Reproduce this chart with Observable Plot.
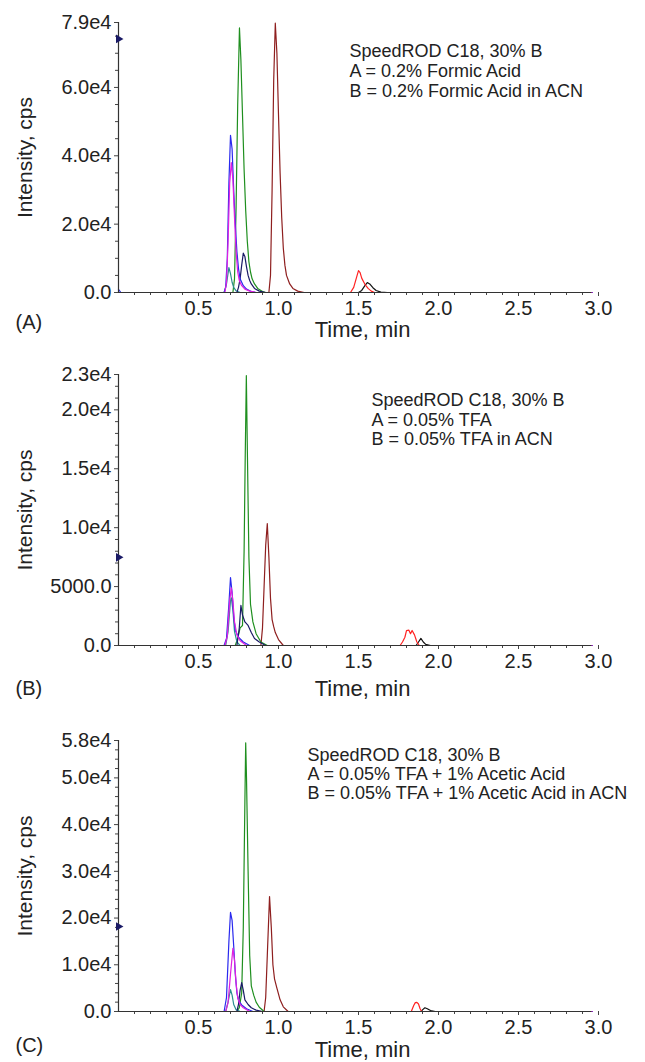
<!DOCTYPE html>
<html><head><meta charset="utf-8">
<script src="https://cdn.jsdelivr.net/npm/d3@7"></script>
<script src="https://cdn.jsdelivr.net/npm/@observablehq/plot@0.6"></script>
<style>
html,body{margin:0;padding:0;background:#fff;}
#chart svg{display:block;}
</style></head><body><div id="chart"></div>
<script>
// ---------- data (time in min, intensity in cps) ----------
const xTicks = [0.5, 1.0, 1.5, 2.0, 2.5, 3.0];
const xMinor = [0.1,0.2,0.3,0.4,0.6,0.7,0.8,0.9,1.1,1.2,1.3,1.4,1.6,1.7,1.8,1.9,2.1,2.2,2.3,2.4,2.6,2.7,2.8,2.9];
const tEnd = 2.96;

// Panel A
const A_yTicks = [0, 20000, 40000, 60000, 79000];
const A_yLabels = ["0.0", "2.0e4", "4.0e4", "6.0e4", "7.9e4"];
const A_yMinor = [5000,10000,15000,25000,30000,35000,45000,50000,55000,65000,70000,75000];
const A_black = [[0,0],[1.50,0],[1.52,600],[1.54,2000],[1.555,2900],[1.57,2500],[1.59,1400],[1.61,600],[1.64,100],[1.68,0],[tEnd,0]];
const A_red = [[0,0],[1.45,0],[1.47,1500],[1.49,4800],[1.50,6400],[1.51,5800],[1.52,4200],[1.54,2400],[1.56,1200],[1.58,400],[1.60,0],[tEnd,0]];
const A_brown = [[0,0],[0.94,0],[0.95,5000],[0.96,30000],[0.97,62000],[0.98,78800],[0.99,70000],[1.0,52000],[1.01,35000],[1.02,22000],[1.03,13000],[1.04,8000],[1.05,5000],[1.07,2500],[1.09,1200],[1.12,400],[1.16,0],[tEnd,0]];
const A_green = [[0,0],[0.715,0],[0.725,4000],[0.735,25000],[0.745,55000],[0.756,77400],[0.765,68000],[0.775,52000],[0.785,36000],[0.795,24000],[0.805,15000],[0.815,9000],[0.825,6000],[0.835,4000],[0.85,2500],[0.87,1200],[0.90,300],[0.92,0],[tEnd,0]];
const A_teal = [[0,0],[0.66,0],[0.675,2500],[0.69,7300],[0.70,5500],[0.71,3000],[0.72,1500],[0.735,500],[0.76,0],[tEnd,0]];
const A_navy = [[0,0],[0.74,0],[0.75,1500],[0.76,4000],[0.77,8000],[0.78,11500],[0.79,10500],[0.80,7500],[0.81,5000],[0.82,3500],[0.83,2500],[0.85,1200],[0.88,400],[0.92,0],[tEnd,0]];
const A_blue = [[0,900],[0.015,0],[0.66,0],[0.67,1500],[0.68,10000],[0.69,32000],[0.70,46000],[0.71,42000],[0.72,30000],[0.73,20000],[0.74,12000],[0.75,7000],[0.76,4000],[0.78,2000],[0.80,1000],[0.83,300],[0.86,0],[tEnd,0]];
const A_magenta = [[0,0],[0.665,0],[0.675,3000],[0.685,15000],[0.695,32000],[0.705,38000],[0.715,33000],[0.725,22000],[0.735,12000],[0.745,6000],[0.755,3500],[0.77,2000],[0.79,1000],[0.82,400],[0.86,0],[tEnd,0]];
const A_marker = [74200];
const A_note = "SpeedROD C18, 30% B\nA = 0.2% Formic Acid\nB = 0.2% Formic Acid in ACN";

// Panel B
const B_yTicks = [0, 5000, 10000, 15000, 20000, 23000];
const B_yLabels = ["0.0", "5000.0", "1.0e4", "1.5e4", "2.0e4", "2.3e4"];
const B_yMinor = [1000,2000,3000,4000,6000,7000,8000,9000,11000,12000,13000,14000,16000,17000,18000,19000,21000,22000];
const B_black = [[0,0],[1.86,0],[1.875,300],[1.89,600],[1.905,300],[1.92,100],[1.95,0],[tEnd,0]];
const B_red = [[0,0],[1.76,0],[1.775,300],[1.79,700],[1.80,1270],[1.815,1300],[1.825,1000],[1.835,1280],[1.85,900],[1.865,300],[1.88,0],[tEnd,0]];
const B_brown = [[0,0],[0.89,0],[0.90,1500],[0.91,5000],[0.92,8500],[0.93,10340],[0.94,7500],[0.95,4000],[0.96,2200],[0.97,1600],[0.98,1100],[1.0,500],[1.03,0],[tEnd,0]];
const B_green = [[0,0],[0.73,0],[0.745,600],[0.76,1500],[0.775,1700],[0.785,8000],[0.792,16000],[0.799,22900],[0.806,16000],[0.815,7500],[0.825,3500],[0.84,2000],[0.86,1000],[0.89,300],[0.93,0],[tEnd,0]];
const B_teal = [[0,0],[0.67,0],[0.685,1200],[0.70,3800],[0.705,4050],[0.715,3000],[0.725,1200],[0.74,300],[0.76,0],[tEnd,0]];
const B_navy = [[0,0],[0.74,0],[0.755,1500],[0.765,3400],[0.775,2600],[0.79,2000],[0.81,1700],[0.83,1100],[0.85,600],[0.88,300],[0.92,0],[tEnd,0]];
const B_blue = [[0,0],[0.66,0],[0.675,600],[0.69,3500],[0.70,5760],[0.71,4500],[0.72,2500],[0.73,1300],[0.75,700],[0.78,300],[0.82,0],[tEnd,0]];
const B_magenta = [[0,0],[0.665,0],[0.68,800],[0.695,3800],[0.705,4900],[0.715,3800],[0.725,2000],[0.74,900],[0.76,400],[0.80,0],[tEnd,0]];
const B_marker = [7480];
const B_note = "SpeedROD C18, 30% B\nA = 0.05% TFA\nB = 0.05% TFA in ACN";

// Panel C
const C_yTicks = [0, 10000, 20000, 30000, 40000, 50000, 58000];
const C_yLabels = ["0.0", "1.0e4", "2.0e4", "3.0e4", "4.0e4", "5.0e4", "5.8e4"];
const C_yMinor = [2000,4000,6000,8000,12000,14000,16000,18000,22000,24000,26000,28000,32000,34000,36000,38000,42000,44000,46000,48000,52000,54000,56000];
const C_black = [[0,0],[1.89,0],[1.905,500],[1.915,800],[1.93,600],[1.95,200],[1.98,0],[tEnd,0]];
const C_red = [[0,0],[1.83,0],[1.845,1300],[1.855,1900],[1.865,1950],[1.875,1600],[1.885,600],[1.895,0],[tEnd,0]];
const C_brown = [[0,0],[0.91,0],[0.92,3000],[0.93,12000],[0.944,24600],[0.955,18000],[0.965,10000],[0.975,7000],[0.99,5000],[1.01,2500],[1.03,1000],[1.06,0],[tEnd,0]];
const C_green = [[0,0],[0.74,0],[0.755,800],[0.77,4000],[0.78,18000],[0.79,45000],[0.795,57500],[0.80,50000],[0.81,30000],[0.82,12000],[0.83,5500],[0.845,3500],[0.86,2000],[0.88,900],[0.91,0],[tEnd,0]];
const C_teal = [[0,0],[0.67,0],[0.685,2000],[0.70,4700],[0.71,3500],[0.72,1500],[0.735,400],[0.76,0],[tEnd,0]];
const C_navy = [[0,0],[0.74,0],[0.75,1500],[0.76,4500],[0.77,6200],[0.78,4500],[0.79,2500],[0.81,1500],[0.83,800],[0.86,300],[0.90,0],[tEnd,0]];
const C_blue = [[0,0],[0.66,0],[0.675,3000],[0.69,15000],[0.70,21200],[0.71,19500],[0.72,14000],[0.73,8000],[0.74,4000],[0.75,2400],[0.77,1400],[0.80,600],[0.84,0],[tEnd,0]];
const C_magenta = [[0,0],[0.67,0],[0.685,2000],[0.70,8000],[0.715,13500],[0.725,11000],[0.735,6000],[0.745,3000],[0.76,1500],[0.78,800],[0.82,0],[tEnd,0]];
const C_marker = [18200];
const C_note = "SpeedROD C18, 30% B\nA = 0.05% TFA + 1% Acetic Acid\nB = 0.05% TFA + 1% Acetic Acid in ACN";

const colors = {black:"#111111", red:"#ff2222", brown:"#8e1f1f", green:"#1f8f1f", teal:"#2a8f8f", navy:"#1a1a66", blue:"#2a2aee", magenta:"#e020e0"};

// ---------- rendering ----------
const FONT = "'Liberation Sans', Arial, Helvetica, sans-serif";

function panel(cfg) {
  const labelMap = new Map(cfg.yTicks.map((v, i) => [v, cfg.yLabels[i]]));
  const lines = Object.entries(cfg.series).map(([name, pts]) =>
    Plot.line(pts, {x: d => d[0], y: d => d[1], stroke: colors[name], strokeWidth: 1.2}));
  return Plot.plot({
    width: 645,
    height: cfg.height,
    marginTop: 22,
    marginBottom: cfg.marginBottom,
    marginLeft: 118,
    marginRight: 47,
    style: {fontFamily: FONT, color: "#222", background: "#fff", overflow: "visible"},
    x: {domain: [0, 3.0]},
    y: {domain: [0, cfg.yMax]},
    marks: [
      Plot.axisY(cfg.yMinor, {anchor: "left", tickSize: 3, tickFormat: () => "", label: null, stroke: "#444"}),
      Plot.axisY(cfg.yTicks, {anchor: "left", tickSize: 4, tickPadding: 3, tickFormat: d => labelMap.get(d), fontSize: 20, label: null, stroke: "#444"}),
      Plot.axisX(xMinor, {anchor: "bottom", tickSize: 3, tickFormat: () => "", label: null, stroke: "#444"}),
      Plot.axisX(xTicks, {anchor: "bottom", tickSize: 4, tickPadding: 4, tickFormat: d => d.toFixed(1), fontSize: 20, label: null, stroke: "#444"}),
      ...lines,
      Plot.ruleX([0], {stroke: "#333", strokeWidth: 1.2}),
      Plot.ruleY([0], {x1: 0, x2: tEnd, stroke: "#333", strokeWidth: 1}),
      Plot.dot(cfg.marker, {x: 0, y: d => d, symbol: "triangle", r: 3.2, fill: "#1a1a66", stroke: "none", rotate: 90}),
      Plot.text(["Intensity, cps"], {frameAnchor: "left", dx: -93, rotate: -90, fontSize: 21, textAnchor: "middle", lineAnchor: "middle"}),
      Plot.text(["Time, min"], {frameAnchor: "bottom", dx: 4, dy: cfg.timeDy, fontSize: 22, lineAnchor: "middle"}),
      Plot.text([cfg.tag], {frameAnchor: "bottom-left", dx: -103, dy: cfg.tagDy, fontSize: 20, textAnchor: "start", lineAnchor: "middle"}),
      Plot.text([cfg.note], {frameAnchor: "top-left", dx: cfg.noteDx, dy: cfg.noteDy, fontSize: 18, textAnchor: "start", lineAnchor: "top", lineHeight: cfg.noteLH})
    ]
  });
}

const chart = document.getElementById("chart");
chart.append(panel({
  height: 352, marginBottom: 60, yMax: 79000, yTicks: A_yTicks, yLabels: A_yLabels, yMinor: A_yMinor,
  series: {black: A_black, red: A_red, brown: A_brown, green: A_green, teal: A_teal, navy: A_navy, blue: A_blue, magenta: A_magenta},
  marker: A_marker, note: A_note, noteDx: 231, noteDy: 20, noteLH: 1.11, tag: "(A)", tagDy: 30, timeDy: 37
}));
chart.append(panel({
  height: 366, marginBottom: 73, yMax: 23000, yTicks: B_yTicks, yLabels: B_yLabels, yMinor: B_yMinor,
  series: {black: B_black, red: B_red, brown: B_brown, green: B_green, teal: B_teal, navy: B_navy, blue: B_blue, magenta: B_magenta},
  marker: B_marker, note: B_note, noteDx: 253, noteDy: 18, noteLH: 1.08, tag: "(B)", tagDy: 43, timeDy: 43
}));
chart.append(panel({
  height: 344, marginBottom: 51, yMax: 58000, yTicks: C_yTicks, yLabels: C_yLabels, yMinor: C_yMinor,
  series: {black: C_black, red: C_red, brown: C_brown, green: C_green, teal: C_teal, navy: C_navy, blue: C_blue, magenta: C_magenta},
  marker: C_marker, note: C_note, noteDx: 189, noteDy: 7, noteLH: 1.05, tag: "(C)", tagDy: 34, timeDy: 38
}));
</script></body></html>
